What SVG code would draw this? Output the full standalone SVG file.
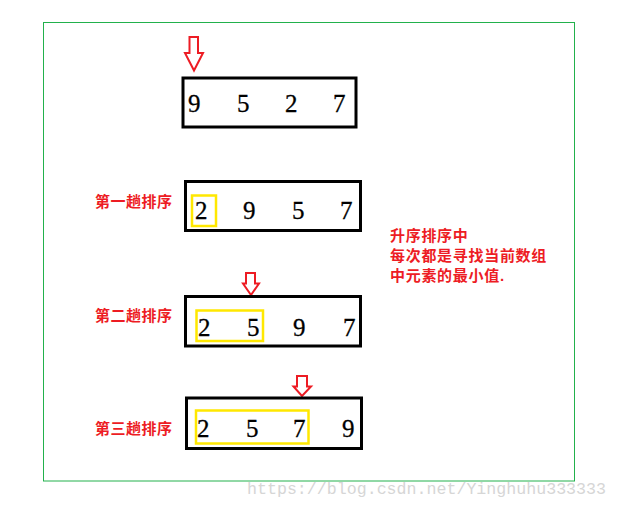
<svg xmlns="http://www.w3.org/2000/svg" width="618" height="508" viewBox="0 0 618 508">
<style>
.frame{fill:none;stroke:#22b14c;stroke-width:1}
.box{fill:none;stroke:#000;stroke-width:3}
.hl{fill:none;stroke:#ffe800;stroke-width:2.5}
.arrow{fill:#fff;stroke:#ed1c24;stroke-width:2;stroke-linejoin:miter}
.num{font-family:"Liberation Serif","DejaVu Serif",serif;font-size:25px;fill:#000;stroke:#000;stroke-width:0.3}
.lbl{font-family:"Liberation Sans","Noto Sans CJK SC",sans-serif;font-size:15px;font-weight:bold;fill:#ed1c24}
.note{letter-spacing:0.7px}
.wm{font-family:"Liberation Mono","DejaVu Sans Mono",monospace;font-size:17px;fill:#d6d6d6}
</style>
<rect width="618" height="508" fill="#fff"/>
<rect class="frame" x="43.5" y="22.5" width="531" height="458.5"/>

<g id="connectors">
<path id="arrow1" class="arrow" d="M189.5,37 H198 V53 H203 L194,70.5 L185,53 H189.5 Z"/>
<path id="arrow2" class="arrow" d="M246,273 H255 V283.5 H259 L251,295 L243,283.5 H246 Z"/>
<path id="arrow3" class="arrow" d="M297,376 H307 V386.5 H311 L302,396 L293.5,386.5 H297 Z"/>
</g>

<g id="row0">
<rect class="box" x="183" y="78" width="173" height="49"/>
<text class="num" x="188" y="112">9</text>
<text class="num" x="237" y="112">5</text>
<text class="num" x="285" y="112">2</text>
<text class="num" x="333" y="112">7</text>
</g>

<g id="row1">
<text class="lbl" x="95" y="206.5" textLength="77">第一趟排序</text>
<rect class="box" x="185.5" y="181.5" width="175" height="49"/>
<rect class="hl" x="192" y="195.5" width="24" height="30.5"/>
<text class="num" x="195" y="219">2</text>
<text class="num" x="243" y="219">9</text>
<text class="num" x="292" y="219">5</text>
<text class="num" x="340" y="219">7</text>
</g>

<g id="row2">
<text class="lbl" x="95" y="320.5" textLength="77">第二趟排序</text>
<rect class="box" x="185.5" y="296.5" width="175" height="49.5"/>
<rect class="hl" x="196.5" y="310.5" width="66.5" height="30.5"/>
<text class="num" x="198" y="336">2</text>
<text class="num" x="247" y="336">5</text>
<text class="num" x="293" y="336">9</text>
<text class="num" x="343" y="336">7</text>
</g>

<g id="row3">
<text class="lbl" x="95" y="434" textLength="77">第三趟排序</text>
<rect class="box" x="186.5" y="398" width="175" height="50.5"/>
<rect class="hl" x="196" y="410.5" width="112.5" height="33"/>
<text class="num" x="197" y="437">2</text>
<text class="num" x="246" y="437">5</text>
<text class="num" x="293" y="437">7</text>
<text class="num" x="342" y="437">9</text>
</g>

<g id="note">
<text class="lbl note" x="390" y="240.5">升序排序中</text>
<text class="lbl note" x="390" y="260.5">每次都是寻找当前数组</text>
<text class="lbl note" x="390" y="280.5">中元素的最小值.</text>
</g>

<text class="wm" x="247" y="494" textLength="359" lengthAdjust="spacingAndGlyphs">https://blog.csdn.net/Yinghuhu333333</text>
</svg>
